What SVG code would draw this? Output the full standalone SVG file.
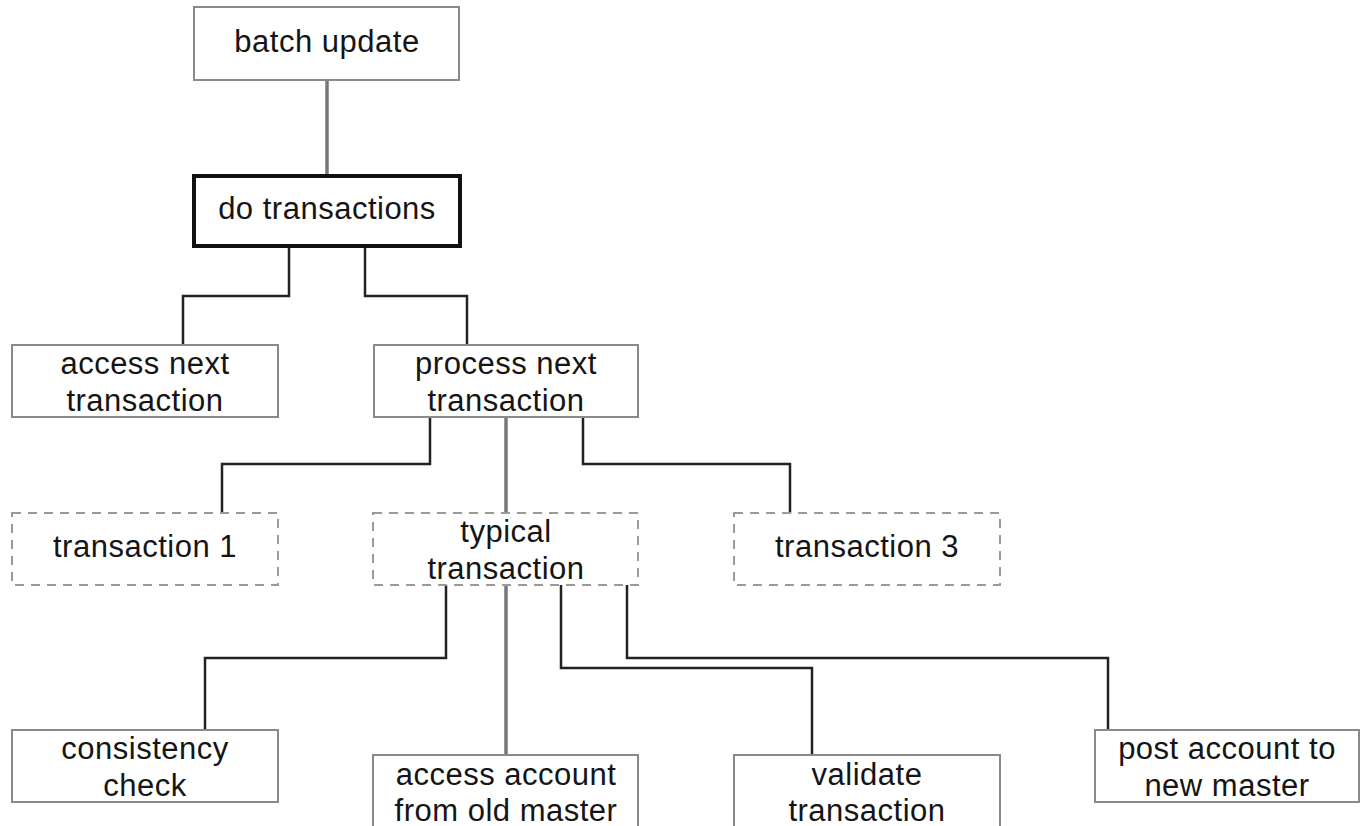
<svg xmlns="http://www.w3.org/2000/svg" width="1364" height="826" viewBox="0 0 1364 826">
<style>
.box{fill:#fff;stroke:#8a8a8a;stroke-width:2}
.bold{fill:#fff;stroke:#111;stroke-width:4}
.dash{fill:#fff;stroke:#9a9a9a;stroke-width:2;stroke-dasharray:9 7}
.t{font-family:"Liberation Sans",Arial,sans-serif;font-size:31px;letter-spacing:0.5px;fill:#151515;text-anchor:middle}
.c{fill:none;stroke:#222;stroke-width:2.5}
.g{fill:none;stroke:#777;stroke-width:3.5}
</style>
<rect width="1364" height="826" fill="#fff"/>
<g id="connectors">
<path class="g" d="M327 80V176"/>
<path class="c" d="M289 246V296H183V345"/>
<path class="c" d="M365 246V296H467V345"/>
<path class="c" d="M430 417V464H222V513"/>
<path class="g" d="M506 417V513"/>
<path class="c" d="M583 417V464H790V513"/>
<path class="c" d="M446 585V658H205V730"/>
<path class="g" d="M506 585V755"/>
<path class="c" d="M561 585V668H812V755"/>
<path class="c" d="M627 585V658H1108V730"/>
</g>
<g id="batch-update"><rect class="box" x="194" y="7" width="265" height="73"/><text class="t" x="327" y="52">batch update</text></g>
<g id="do-transactions"><rect class="bold" x="194" y="176" width="266" height="70"/><text class="t" x="327" y="219">do transactions</text></g>
<g id="access-next-transaction"><rect class="box" x="12" y="345" width="266" height="72"/><text class="t" x="145" y="374">access next</text><text class="t" x="145" y="411">transaction</text></g>
<g id="process-next-transaction"><rect class="box" x="374" y="345" width="264" height="72"/><text class="t" x="506" y="374">process next</text><text class="t" x="506" y="411">transaction</text></g>
<g id="transaction-1"><rect class="dash" x="12" y="513" width="266" height="72"/><text class="t" x="145" y="557">transaction 1</text></g>
<g id="typical-transaction"><rect class="dash" x="373" y="513" width="265" height="72"/><text class="t" x="506" y="542">typical</text><text class="t" x="506" y="579">transaction</text></g>
<g id="transaction-3"><rect class="dash" x="734" y="513" width="266" height="72"/><text class="t" x="867" y="557">transaction 3</text></g>
<g id="consistency-check"><rect class="box" x="12" y="730" width="266" height="72"/><text class="t" x="145" y="759">consistency</text><text class="t" x="145" y="796">check</text></g>
<g id="access-account"><rect class="box" x="373" y="755" width="265" height="80"/><text class="t" x="506" y="785">access account</text><text class="t" x="506" y="821">from old master</text></g>
<g id="validate-transaction"><rect class="box" x="734" y="755" width="266" height="80"/><text class="t" x="867" y="785">validate</text><text class="t" x="867" y="821">transaction</text></g>
<g id="post-account"><rect class="box" x="1095" y="730" width="264" height="72"/><text class="t" x="1227" y="759">post account to</text><text class="t" x="1227" y="796">new master</text></g>
</svg>
